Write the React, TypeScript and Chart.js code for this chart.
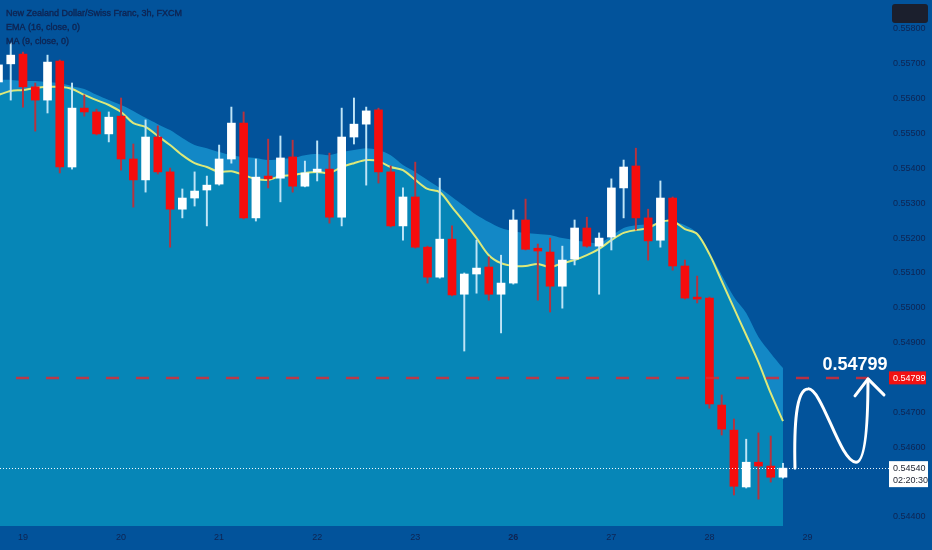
import React, { useEffect, useRef } from "react";
import { Chart, registerables } from "chart.js";

Chart.register(...registerables);

const TITLE = "New Zealand Dollar/Swiss Franc, 3h, FXCM";
const EMA_LABEL = "EMA (16, close, 0)";
const MA_LABEL = "MA (9, close, 0)";

const OPEN = [
  0.55648, 0.557, 0.55728, 0.55634, 0.55596, 0.55708, 0.55404, 0.55573, 0.55562, 0.55499,
  0.5555, 0.55427, 0.55367, 0.5549, 0.5539, 0.55283, 0.55315, 0.55338, 0.55355, 0.55427,
  0.5553, 0.55258, 0.55378, 0.55372, 0.55433, 0.55349, 0.5539, 0.55398, 0.5526, 0.5549,
  0.55527, 0.55568, 0.5539, 0.55235, 0.55318, 0.55174, 0.55088, 0.55197, 0.55039, 0.55097,
  0.55117, 0.55039, 0.55071, 0.55252, 0.55171, 0.5516, 0.55062, 0.5514, 0.55229, 0.55177,
  0.55203, 0.55344, 0.55407, 0.55258, 0.55194, 0.55315, 0.5512, 0.55028, 0.55028, 0.54721,
  0.54649, 0.54486, 0.54557, 0.54546, 0.54514,
];
const HIGH = [
  0.55705, 0.5576, 0.55734, 0.55645, 0.55725, 0.55711, 0.55645, 0.55611, 0.5557, 0.55562,
  0.55602, 0.5547, 0.55539, 0.55522, 0.55401, 0.55341, 0.5539, 0.55378, 0.55467, 0.55576,
  0.55562, 0.55427, 0.55484, 0.55493, 0.55481, 0.55421, 0.55479, 0.55444, 0.55573, 0.55602,
  0.55576, 0.55573, 0.55407, 0.55344, 0.55418, 0.55177, 0.55372, 0.55235, 0.551, 0.55194,
  0.55146, 0.55151, 0.55281, 0.55312, 0.55183, 0.552, 0.55177, 0.55252, 0.5526, 0.55215,
  0.5537, 0.55424, 0.55458, 0.55283, 0.55364, 0.55318, 0.55137, 0.55091, 0.55031, 0.5475,
  0.54681, 0.54623, 0.54641, 0.54632, 0.54554,
];
const LOW = [
  0.55636, 0.55596, 0.55576, 0.55507, 0.55559, 0.55387, 0.55398, 0.5555, 0.55496, 0.55476,
  0.55395, 0.55289, 0.55332, 0.55384, 0.55174, 0.55258, 0.55292, 0.55235, 0.55352, 0.55415,
  0.55255, 0.55249, 0.55344, 0.55304, 0.55332, 0.55347, 0.55364, 0.55243, 0.55235, 0.5547,
  0.55352, 0.55358, 0.55232, 0.55194, 0.55171, 0.55071, 0.55085, 0.55034, 0.54876, 0.55042,
  0.55022, 0.54928, 0.55068, 0.55166, 0.55022, 0.54988, 0.54999, 0.55123, 0.55174, 0.55039,
  0.55166, 0.55258, 0.55223, 0.55137, 0.55174, 0.55108, 0.55025, 0.55014, 0.54712, 0.54635,
  0.54463, 0.54483, 0.54451, 0.545, 0.54511,
];
const CLOSE = [
  0.55697, 0.55725, 0.55634, 0.55596, 0.55705, 0.55404, 0.55573, 0.55562, 0.55499, 0.55547,
  0.55427, 0.55367, 0.5549, 0.5539, 0.55283, 0.55315, 0.55335, 0.55352, 0.55427, 0.5553,
  0.55258, 0.55375, 0.5537, 0.5543, 0.55349, 0.55387, 0.55398, 0.5526, 0.5549, 0.55527,
  0.55565, 0.5539, 0.55235, 0.55318, 0.55174, 0.55088, 0.55197, 0.55037, 0.55097, 0.55114,
  0.55039, 0.55071, 0.55252, 0.55168, 0.55163, 0.55062, 0.55137, 0.55229, 0.55177, 0.552,
  0.55344, 0.55404, 0.55258, 0.55192, 0.55315, 0.5512, 0.55028, 0.55025, 0.54724, 0.54652,
  0.54488, 0.54557, 0.54546, 0.54514, 0.5454,
];
const MA9 = [
  0.55611, 0.55622, 0.55625, 0.55631, 0.55634, 0.55634, 0.55628, 0.55611, 0.55596, 0.55582,
  0.55562, 0.5553, 0.55519, 0.55493, 0.55467, 0.55438, 0.55415, 0.55404, 0.5539, 0.55392,
  0.55381, 0.5537, 0.55367, 0.55378, 0.55381, 0.55387, 0.5539, 0.55387, 0.55404, 0.55415,
  0.55424, 0.55421, 0.55404, 0.55395, 0.55367, 0.55341, 0.55332, 0.55289, 0.55246, 0.552,
  0.55151, 0.55128, 0.5512, 0.5512, 0.55126, 0.55117, 0.55128, 0.55137, 0.55151, 0.55169,
  0.55194, 0.55215, 0.55223, 0.55229, 0.55246, 0.55249, 0.55226, 0.55212, 0.55154, 0.55077,
  0.54999, 0.54922, 0.54844, 0.54755, 0.54675,
];
const EMA16 = [
  0.55654, 0.55654, 0.55651, 0.55651, 0.55648, 0.55645, 0.55636, 0.55628, 0.55611, 0.55596,
  0.55582, 0.55565, 0.55545, 0.55527, 0.5551, 0.55487, 0.55467, 0.55458, 0.55447, 0.55438,
  0.55433, 0.5543, 0.55424, 0.55427, 0.5543, 0.55438, 0.55441, 0.55438, 0.55447, 0.55453,
  0.55458, 0.55453, 0.55438, 0.5541, 0.5539, 0.55367, 0.55344, 0.55318, 0.55292, 0.55266,
  0.55246, 0.55229, 0.5522, 0.55215, 0.55212, 0.55209, 0.552, 0.55194, 0.55189, 0.55186,
  0.55206, 0.55229, 0.55237, 0.5524, 0.55243, 0.55246, 0.55237, 0.55215, 0.5516, 0.55094,
  0.55031, 0.54985, 0.54916, 0.5487, 0.54827,
];

const DAY_TICK_INDEX = [2, 10, 18, 26, 34, 42, 50, 58, 66];
const DAY_TICK_LABELS = ["19", "20", "21", "22", "23", "26", "27", "28", "29"];
const PRICE_TICKS = [
  0.544, 0.545, 0.546, 0.547, 0.548, 0.549, 0.55, 0.551, 0.552, 0.553, 0.554, 0.555, 0.556, 0.557, 0.558,
];
const TARGET = 0.54799;
const LAST = 0.5454;
const COUNTDOWN = "02:20:30";

const BG = "#02539b";
const BAND = "#1388c6";
const TEAL = "#0686b7";
const TXT = "#0f2452";
const FONT = "Arial, 'Liberation Sans', sans-serif";

export default function App() {
  const ref = useRef<HTMLCanvasElement | null>(null);

  useEffect(() => {
    if (!ref.current) return;
    const n = CLOSE.length;
    const idx = CLOSE.map((_, i) => i);
    const bull = idx.map((i) => CLOSE[i] >= OPEN[i]);

    const overlay = {
      id: "overlay",
      beforeDraw(chart: any) {
        const { ctx, width, height } = chart;
        ctx.save();
        ctx.fillStyle = BG;
        ctx.fillRect(0, 0, width, height);
        ctx.restore();
      },
      afterDatasetsDraw(chart: any) {
        const { ctx, chartArea } = chart;
        const y = chart.scales.y;
        const ty = y.getPixelForValue(TARGET);
        const ly = y.getPixelForValue(LAST);
        ctx.save();
        ctx.strokeStyle = "rgba(226,40,48,0.82)";
        ctx.lineWidth = 2.5;
        ctx.setLineDash([13, 17]);
        ctx.lineDashOffset = -16;
        ctx.beginPath();
        ctx.moveTo(chartArea.left, ty);
        ctx.lineTo(chartArea.right, ty);
        ctx.stroke();
        ctx.setLineDash([1, 2]);
        ctx.lineDashOffset = 0;
        ctx.strokeStyle = "rgba(255,255,255,0.95)";
        ctx.lineWidth = 1;
        ctx.beginPath();
        ctx.moveTo(chartArea.left, Math.round(ly) + 0.5);
        ctx.lineTo(chartArea.right + 6, Math.round(ly) + 0.5);
        ctx.stroke();
        ctx.restore();
      },
      afterDraw(chart: any) {
        const { ctx, chartArea } = chart;
        const x = chart.scales.x;
        const y = chart.scales.y;
        const ty = y.getPixelForValue(TARGET);
        const ly = y.getPixelForValue(LAST);
        const ax = x.getPixelForValue(n - 1);
        ctx.save();
        // legend texts
        ctx.fillStyle = TXT;
        ctx.strokeStyle = TXT;
        ctx.lineWidth = 0.35;
        ctx.textBaseline = "middle";
        ctx.textAlign = "left";
        ctx.font = `9px ${FONT}`;
        [TITLE, EMA_LABEL, MA_LABEL].forEach((t, k) => {
          ctx.fillText(t, 6, 14 + k * 14);
          ctx.strokeText(t, 6, 14 + k * 14);
        });

        // top-right dark box
        ctx.fillStyle = "#1b1f2d";
        ctx.beginPath();
        (ctx as any).roundRect(892, 4, 36, 19, 3);
        ctx.fill();

        // target price label
        const lx = chartArea.right + 6;
        ctx.fillStyle = "#f21212";
        ctx.fillRect(lx, ty - 6.5, 37, 13);
        ctx.fillStyle = "#ffffff";
        ctx.font = `9px ${FONT}`;
        ctx.fillText(TARGET.toFixed(5), lx + 4, ty + 0.5);

        // last price label
        ctx.fillStyle = "#ffffff";
        ctx.fillRect(lx, ly - 7, 39, 26);
        ctx.fillStyle = "#1c2230";
        ctx.fillText(LAST.toFixed(5), lx + 4, ly + 0.5);
        ctx.fillText(COUNTDOWN, lx + 4, ly + 12.5);

        // annotation arrow
        ctx.strokeStyle = "#ffffff";
        ctx.lineWidth = 3;
        ctx.lineCap = "round";
        ctx.lineJoin = "round";
        ctx.beginPath();
        ctx.moveTo(ax + 12, ly);
        ctx.bezierCurveTo(ax + 11, ly - 42, ax + 13, ty + 11, ax + 25, ty + 11);
        ctx.bezierCurveTo(ax + 39, ty + 10, ax + 57, ly - 6, ax + 73, ly - 6);
        ctx.bezierCurveTo(ax + 83, ly - 6, ax + 85, ty + 40, ax + 85, ty + 1);
        ctx.stroke();
        ctx.beginPath();
        ctx.moveTo(ax + 72, ty + 18);
        ctx.lineTo(ax + 85, ty + 1);
        ctx.lineTo(ax + 101, ty + 17);
        ctx.stroke();

        ctx.fillStyle = "#ffffff";
        ctx.font = `bold 18px ${FONT}`;
        ctx.textAlign = "center";
        ctx.fillText(TARGET.toFixed(5), ax + 72, ty - 13);
        ctx.restore();
      },
    };

    const chart = new Chart(ref.current, {
      type: "bar",
      data: {
        datasets: [
          {
            type: "line",
            label: EMA_LABEL,
            data: idx.map((i) => ({ x: i, y: EMA16[i] })),
            borderWidth: 0,
            borderColor: "rgba(0,0,0,0)",
            backgroundColor: BAND,
            fill: "start",
            pointRadius: 0,
            tension: 0.3,
            order: 6,
          } as any,
          {
            type: "line",
            label: MA_LABEL,
            data: idx.map((i) => ({ x: i, y: MA9[i] })),
            borderWidth: 2,
            borderColor: "#dde97a",
            backgroundColor: TEAL,
            fill: "start",
            pointRadius: 0,
            tension: 0.3,
            order: 5,
          } as any,
          {
            label: "wick",
            data: idx.map((i) => ({ x: i, y: [LOW[i], HIGH[i]] })),
            backgroundColor: idx.map((i) => (bull[i] ? "#bfe4f6" : "#b8323e")),
            barThickness: 1.3,
            grouped: false,
            order: 2,
          } as any,
          {
            label: "body",
            data: idx.map((i) => ({ x: i, y: [OPEN[i], CLOSE[i]] })),
            backgroundColor: idx.map((i) => (bull[i] ? "#ffffff" : "#f50d0d")),
            barThickness: 8,
            minBarLength: 2,
            grouped: false,
            order: 1,
          } as any,
        ],
      },
      options: {
        animation: false,
        responsive: false,
        events: [],
        layout: { padding: 0 },
        plugins: { legend: { display: false }, tooltip: { enabled: false }, title: { display: false } },
        scales: {
          x: {
            type: "linear",
            min: 0.124,
            max: 72.16,
            offset: false,
            grid: { display: false, drawTicks: false },
            border: { display: false },
            afterBuildTicks: (scale: any) => {
              scale.ticks = DAY_TICK_INDEX.map((v) => ({ value: v }));
            },
            afterFit: (scale: any) => {
              scale.height = 24;
              scale.paddingLeft = 0;
              scale.paddingRight = 0;
              scale.paddingTop = 0;
              scale.paddingBottom = 0;
            },
            ticks: {
              autoSkip: false,
              maxRotation: 0,
              padding: 6,
              color: TXT,
              font: (c: any) => ({
                family: FONT,
                size: 9,
                weight: DAY_TICK_LABELS[DAY_TICK_INDEX.indexOf(c.tick?.value)] === "26" ? "bold" : "normal",
              }),
              callback: (v: any) => {
                const k = DAY_TICK_INDEX.indexOf(Number(v));
                return k >= 0 ? DAY_TICK_LABELS[k] : "";
              },
            },
          },
          y: {
            type: "linear",
            position: "right",
            min: 0.54374,
            max: 0.558832,
            grid: { display: false, drawTicks: false },
            border: { display: false },
            afterBuildTicks: (scale: any) => {
              scale.ticks = PRICE_TICKS.map((v) => ({ value: v }));
            },
            afterFit: (scale: any) => {
              scale.width = 49;
              scale.paddingTop = 0;
              scale.paddingBottom = 0;
              scale.paddingLeft = 0;
              scale.paddingRight = 0;
            },
            ticks: {
              padding: 10,
              color: TXT,
              font: { family: FONT, size: 9 },
              callback: (v: any) => Number(v).toFixed(5),
            },
          },
        },
      } as any,
      plugins: [overlay],
    });
    return () => chart.destroy();
  }, []);

  return (
    <div style={{ position: "fixed", left: 0, top: 0, width: 932, height: 550, background: BG }}>
      <canvas ref={ref} width={932} height={550} style={{ display: "block", width: 932, height: 550 }} />
    </div>
  );
}
